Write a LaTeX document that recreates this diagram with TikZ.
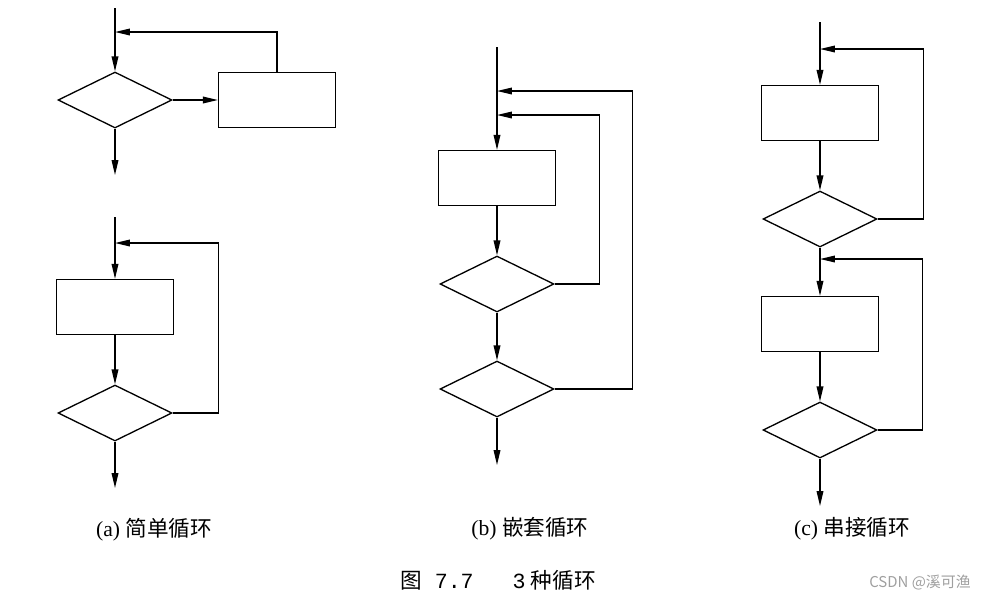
\documentclass[tikz,border=0pt]{standalone}
\usepackage{fontspec}
\setmainfont{Liberation Serif}
\setmonofont{Liberation Mono}
\newfontfamily\cjk{Noto Sans CJK SC}
\usetikzlibrary{arrows.meta,shapes.geometric}

\begin{document}
\begin{tikzpicture}[
  x=0.02cm,y=-0.02cm,
  line width=0.75pt,
  proc/.style={draw,rectangle,minimum width=2.34cm,minimum height=1.1cm,inner sep=0pt},
  cond/.style={draw,diamond,minimum width=2.28cm,minimum height=1.12cm,inner sep=0pt},
  arrow/.style={-{Triangle[length=8.5pt,width=3.8pt]}},
  capt/.style={font=\fontsize{12.3}{14}\selectfont,inner sep=0pt}
]
\useasboundingbox (0,0) rectangle (985,600);

\node[cond] (a1) at (115,100) {};
\node[proc] (a2) at (277,100) {};
\coordinate (a0) at (115,8);
\coordinate (ja) at (115,32);
\coordinate (aout) at (115,175);
\draw[arrow] (a0) -- (a1);
\draw[arrow] (a1) -- (a2);
\draw[arrow] (a2.north) |- (ja);
\draw[arrow] (a1) -- (aout);

\node[proc] (a3) at (115,307) {};
\node[cond] (a4) at (115,413) {};
\coordinate (a5) at (115,217);
\coordinate (jb) at (115,243);
\coordinate (bout) at (115,488);
\draw[arrow] (a5) -- (a3);
\draw[arrow] (a3) -- (a4);
\draw[arrow] (a4.east) -- ++(46,0) |- (jb);
\draw[arrow] (a4) -- (bout);

\node[proc] (b1) at (497,178) {};
\node[cond] (b2) at (497,284) {};
\node[cond] (b3) at (497,389) {};
\coordinate (b0) at (497,47);
\coordinate (jbo) at (497,91);
\coordinate (jbi) at (497,115);
\coordinate (cout) at (497,465);
\draw[arrow] (b0) -- (b1);
\draw[arrow] (b1) -- (b2);
\draw[arrow] (b2) -- (b3);
\draw[arrow] (b2.east) -- ++(45,0) |- (jbi);
\draw[arrow] (b3.east) -- ++(78,0) |- (jbo);
\draw[arrow] (b3) -- (cout);

\node[proc] (c1) at (820,113) {};
\node[cond] (c2) at (820,219) {};
\node[proc] (c3) at (820,324) {};
\node[cond] (c4) at (820,430) {};
\coordinate (c0) at (820,22);
\coordinate (jc1) at (820,49);
\coordinate (jc2) at (820,259);
\coordinate (dout) at (820,506);
\draw[arrow] (c0) -- (c1);
\draw[arrow] (c1) -- (c2);
\draw[arrow] (c2.east) -- ++(46,0) |- (jc1);
\draw[arrow] (c2) -- (c3);
\draw[arrow] (c3) -- (c4);
\draw[arrow] (c4.east) -- ++(45,0) |- (jc2);
\draw[arrow] (c4) -- (dout);

\node[capt] (capa) at (154,530) {(a) {\cjk 简单循环}};
\node[capt] (capb) at (530,529) {(b) {\cjk 嵌套循环}};
\node[capt] (capc) at (852,529) {(c) {\cjk 串接循环}};
\node[capt] (title) at (498,580) {{\cjk 图}{\ttfamily\ 7.7\ \ \ 3}\ {\cjk 种循环}};
\node[font=\cjk\fontsize{8.5}{10}\selectfont,text=gray!75,inner sep=0pt] (mark) at (920,583) {CSDN @溪可渔};
\end{tikzpicture}
\end{document}
